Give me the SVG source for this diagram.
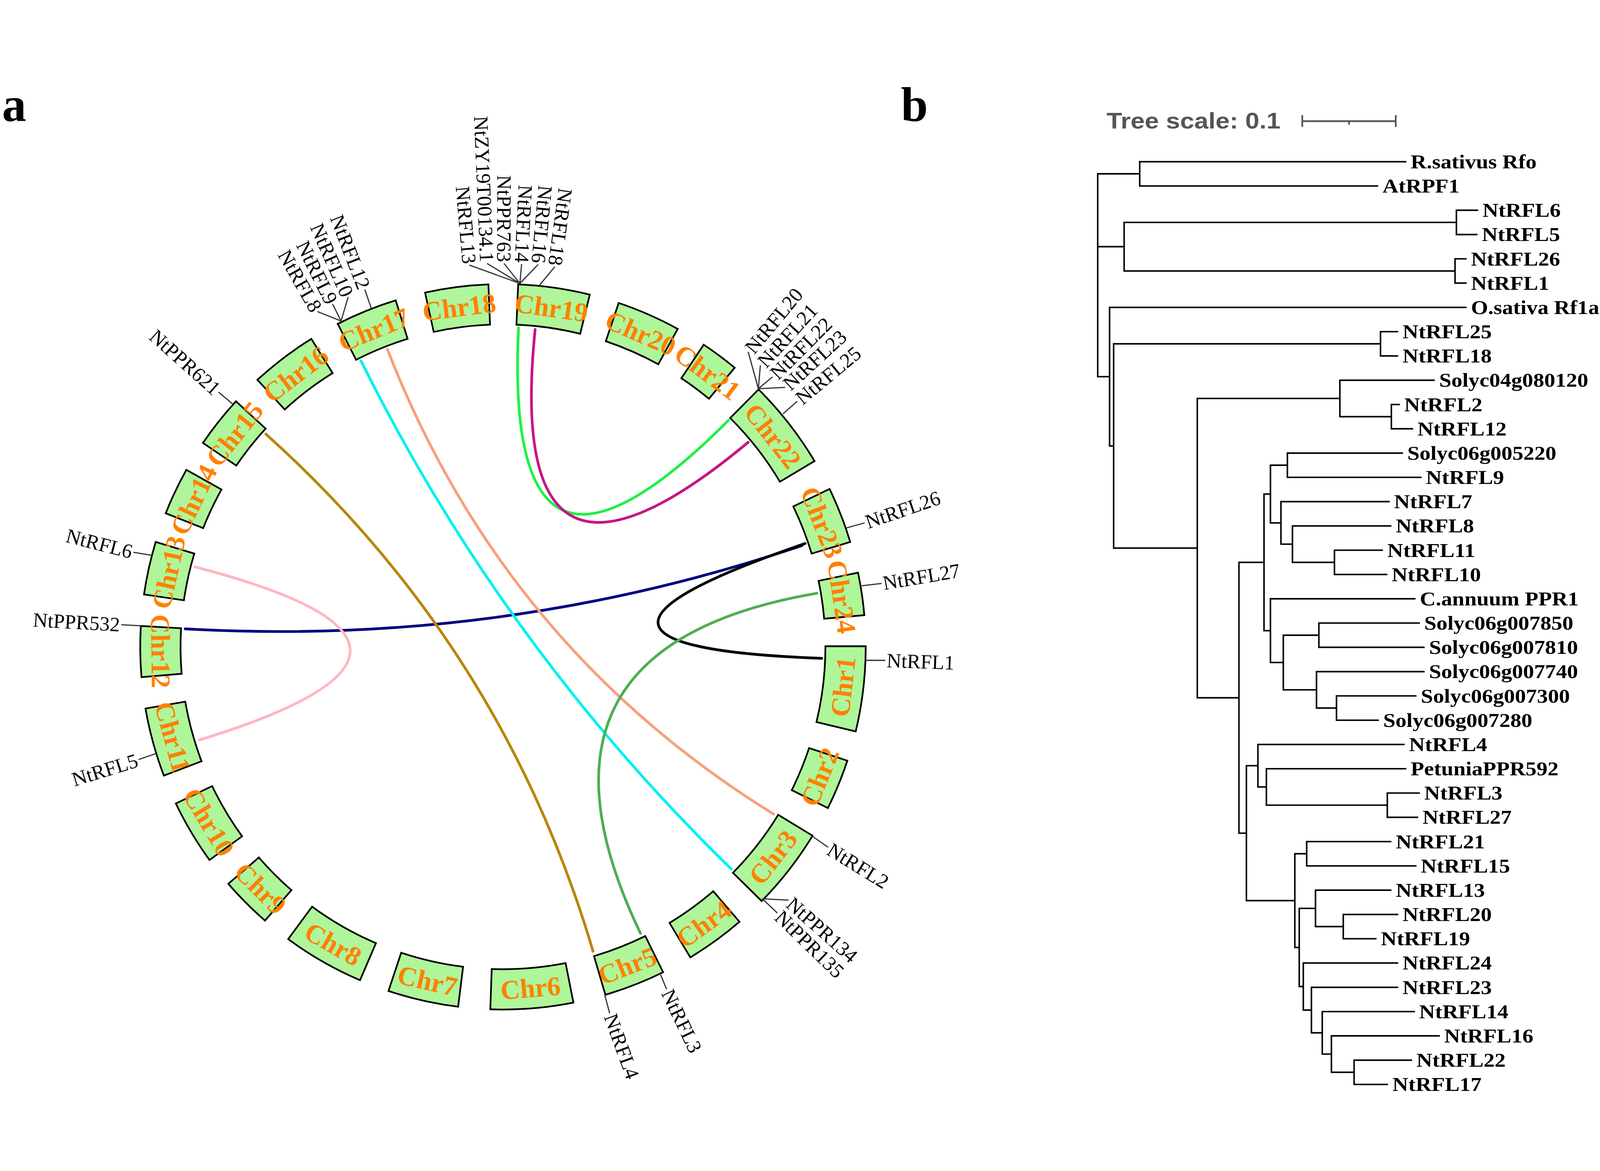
<svg xmlns="http://www.w3.org/2000/svg" width="4724" height="2998" viewBox="0 0 4724 2998">
<style>
svg{width:100vw;height:100vh}
.blk path{fill:#aff59a;stroke:#000;stroke-width:5;stroke-linejoin:miter}
.blk text{font-family:"Liberation Serif",serif;font-weight:bold;font-size:80px;fill:#ff8000;text-anchor:middle;dominant-baseline:central}
.lbl{font-family:"Liberation Serif",serif;font-size:60px;fill:#000;dominant-baseline:central}
.in{text-anchor:end}
.out{text-anchor:start}
.leaf{font-family:"Liberation Serif",serif;font-weight:bold;font-size:58px;fill:#000;dominant-baseline:central}
.panel{font-family:"Liberation Serif",serif;font-weight:bold;font-size:143px;fill:#000}
.link{fill:none;stroke-width:8;stroke-linecap:round}
</style>
<rect width="4724" height="2998" fill="#fff"/>
<text class="panel" x="6" y="128">a</text>
<text class="panel" x="2660" y="128">b</text>

<g id="chromosomes" class="blk">
<g id="chr1" transform="translate(1485,1680) rotate(96.7)"><path d="M-126.8,-1063.5 A1071,1071 0 0 1 126.8,-1063.5 L112.7,-945.3 A952,952 0 0 0 -112.7,-945.3 Z"/><text y="-1011" transform="rotate(180 0 -1011)">Chr1</text></g>
<g id="chr2" transform="translate(1485,1680) rotate(112.35)"><path d="M-75.6,-1068.3 A1071,1071 0 0 1 75.6,-1068.3 L67.2,-949.6 A952,952 0 0 0 -67.2,-949.6 Z"/><text y="-1011" transform="rotate(180 0 -1011)">Chr2</text></g>
<g id="chr3" transform="translate(1485,1680) rotate(127.95)"><path d="M-122.2,-1064 A1071,1071 0 0 1 122.2,-1064 L108.6,-945.8 A952,952 0 0 0 -108.6,-945.8 Z"/><text y="-1011" transform="rotate(180 0 -1011)">Chr3</text></g>
<g id="chr4" transform="translate(1485,1680) rotate(144.1)"><path d="M-89.6,-1067.2 A1071,1071 0 0 1 89.6,-1067.2 L79.7,-948.7 A952,952 0 0 0 -79.7,-948.7 Z"/><text y="-1011" transform="rotate(180 0 -1011)">Chr4</text></g>
<g id="chr5" transform="translate(1485,1680) rotate(158.7)"><path d="M-91.5,-1067.1 A1071,1071 0 0 1 91.5,-1067.1 L81.3,-948.5 A952,952 0 0 0 -81.3,-948.5 Z"/><text y="-1011" transform="rotate(180 0 -1011)">Chr5</text></g>
<g id="chr6" transform="translate(1485,1680) rotate(175.4)"><path d="M-123.1,-1063.9 A1071,1071 0 0 1 123.1,-1063.9 L109.4,-945.7 A952,952 0 0 0 -109.4,-945.7 Z"/><text y="-1011" transform="rotate(180 0 -1011)">Chr6</text></g>
<g id="chr7" transform="translate(1485,1680) rotate(192.75)"><path d="M-105.4,-1065.8 A1071,1071 0 0 1 105.4,-1065.8 L93.7,-947.4 A952,952 0 0 0 -93.7,-947.4 Z"/><text y="-1011" transform="rotate(180 0 -1011)">Chr7</text></g>
<g id="chr8" transform="translate(1485,1680) rotate(209.75)"><path d="M-122.2,-1064 A1071,1071 0 0 1 122.2,-1064 L108.6,-945.8 A952,952 0 0 0 -108.6,-945.8 Z"/><text y="-1011" transform="rotate(180 0 -1011)">Chr8</text></g>
<g id="chr9" transform="translate(1485,1680) rotate(225.1)"><path d="M-76.6,-1068.3 A1071,1071 0 0 1 76.6,-1068.3 L68.1,-949.6 A952,952 0 0 0 -68.1,-949.6 Z"/><text y="-1011" transform="rotate(180 0 -1011)">Chr9</text></g>
<g id="chr10" transform="translate(1485,1680) rotate(239.2)"><path d="M-97.1,-1066.6 A1071,1071 0 0 1 97.1,-1066.6 L86.3,-948.1 A952,952 0 0 0 -86.3,-948.1 Z"/><text y="-1011" transform="rotate(180 0 -1011)">Chr10</text></g>
<g id="chr11" transform="translate(1485,1680) rotate(254.7)"><path d="M-102.7,-1066.1 A1071,1071 0 0 1 102.7,-1066.1 L91.2,-947.6 A952,952 0 0 0 -91.2,-947.6 Z"/><text y="-1011" transform="rotate(180 0 -1011)">Chr11</text></g>
<g id="chr12" transform="translate(1485,1680) rotate(269.25)"><path d="M-75.6,-1068.3 A1071,1071 0 0 1 75.6,-1068.3 L67.2,-949.6 A952,952 0 0 0 -67.2,-949.6 Z"/><text y="-1011" transform="rotate(180 0 -1011)">Chr12</text></g>
<g id="chr13" transform="translate(1485,1680) rotate(282.55)"><path d="M-79.4,-1068.1 A1071,1071 0 0 1 79.4,-1068.1 L70.6,-949.4 A952,952 0 0 0 -70.6,-949.4 Z"/><text y="-1011">Chr13</text></g>
<g id="chr14" transform="translate(1485,1680) rotate(295.4)"><path d="M-71,-1068.6 A1071,1071 0 0 1 71,-1068.6 L63.1,-949.9 A952,952 0 0 0 -63.1,-949.9 Z"/><text y="-1011">Chr14</text></g>
<g id="chr15" transform="translate(1485,1680) rotate(308.4)"><path d="M-78.4,-1068.1 A1071,1071 0 0 1 78.4,-1068.1 L69.7,-949.4 A952,952 0 0 0 -69.7,-949.4 Z"/><text y="-1011">Chr15</text></g>
<g id="chr16" transform="translate(1485,1680) rotate(322.75)"><path d="M-99.9,-1066.3 A1071,1071 0 0 1 99.9,-1066.3 L88.8,-947.8 A952,952 0 0 0 -88.8,-947.8 Z"/><text y="-1011">Chr16</text></g>
<g id="chr17" transform="translate(1485,1680) rotate(337.85)"><path d="M-92.4,-1067 A1071,1071 0 0 1 92.4,-1067 L82.1,-948.4 A952,952 0 0 0 -82.1,-948.4 Z"/><text y="-1011">Chr17</text></g>
<g id="chr18" transform="translate(1485,1680) rotate(352.65)"><path d="M-94.3,-1066.8 A1071,1071 0 0 1 94.3,-1066.8 L83.8,-948.3 A952,952 0 0 0 -83.8,-948.3 Z"/><text y="-1011">Chr18</text></g>
<g id="chr19" transform="translate(1485,1680) rotate(8.125)"><path d="M-106.8,-1065.7 A1071,1071 0 0 1 106.8,-1065.7 L95,-947.2 A952,952 0 0 0 -95,-947.2 Z"/><text y="-1011">Chr19</text></g>
<g id="chr20" transform="translate(1485,1680) rotate(23.7)"><path d="M-95.2,-1066.8 A1071,1071 0 0 1 95.2,-1066.8 L84.6,-948.2 A952,952 0 0 0 -84.6,-948.2 Z"/><text y="-1011">Chr20</text></g>
<g id="chr21" transform="translate(1485,1680) rotate(36.65)"><path d="M-57,-1069.5 A1071,1071 0 0 1 57,-1069.5 L50.7,-950.6 A952,952 0 0 0 -50.7,-950.6 Z"/><text y="-1011">Chr21</text></g>
<g id="chr22" transform="translate(1485,1680) rotate(52)"><path d="M-134.2,-1062.5 A1071,1071 0 0 1 134.2,-1062.5 L119.3,-944.5 A952,952 0 0 0 -119.3,-944.5 Z"/><text y="-1011">Chr22</text></g>
<g id="chr23" transform="translate(1485,1680) rotate(68.7)"><path d="M-84,-1067.7 A1071,1071 0 0 1 84,-1067.7 L74.7,-949.1 A952,952 0 0 0 -74.7,-949.1 Z"/><text y="-1011">Chr23</text></g>
<g id="chr24" transform="translate(1485,1680) rotate(81.6)"><path d="M-63.5,-1069.1 A1071,1071 0 0 1 63.5,-1069.1 L56.5,-950.3 A952,952 0 0 0 -56.5,-950.3 Z"/><text y="-1011">Chr24</text></g>
</g>

<g id="connectors">
<path class="link" stroke="#000080" d="M547,1627 Q1485,1680 2368,1381"/>
<path class="link" stroke="#000000" d="M2377,1375 Q1485,1680 2426,1714"/>
<path class="link" stroke="#20f048" d="M1531,738 Q1485,1680 2151,1011"/>
<path class="link" stroke="#c71585" d="M1580,743 Q1485,1680 2209,1076"/>
<path class="link" stroke="#00f0f0" d="M1066,836 Q1485,1680 2159,2336"/>
<path class="link" stroke="#f7a07c" d="M1144,802 Q1485,1680 2284,2174"/>
<path class="link" stroke="#b8860b" d="M785,1052 Q1485,1680 1751,2579"/>
<path class="link" stroke="#ffb6c1" d="M576,1444 Q1485,1680 589,1955"/>
<path class="link" stroke="#4caf50" d="M2412,1522 Q1485,1680 1891,2526"/>
</g>

<g id="gene-labels">
<path fill="none" stroke="#333" stroke-width="3.5" d="M1096,680 L1077,625 M1007,718 L1028,647 M1007,718 L982,668 M1007,718 L937,690 M687,963 L645,928 M448,1410 L394,1401 M418,1618 L358,1615 M461,1995 L409,2013 M2499,1329 L2553,1314 M2544,1500 L2603,1493 M2555,1720 L2614,1720 M2239,918 L2209,809 M2239,918 L2245,849 M2239,918 L2281,883 M2239,918 L2318,914 M2312,992 L2354,955 M1535,607 L1386,553 M1535,607 L1438,548 M1535,607 L1488,548 M1535,607 L1540,550 M1535,607 L1589,551 M1593,612 L1638,558 M2398,2239 L2445,2272 M2251,2424 L2328,2428 M2251,2424 L2295,2466 M1785,2706 L1800,2762 M1949,2645 L1968,2691"/>
<g class="lbl in">
<text x="-4" transform="translate(1077,625) rotate(68.86)">NtRFL12</text>
<text x="-4" transform="translate(1028,647) rotate(66.1)">NtRFL10</text>
<text x="-4" transform="translate(982,668) rotate(63.6)">NtRFL9</text>
<text x="-4" transform="translate(937,690) rotate(60.5)">NtRFL8</text>
<text x="-4" transform="translate(645,928) rotate(41.8)">NtPPR621</text>
<text x="-4" transform="translate(394,1401) rotate(14.3)">NtRFL6</text>
<text x="-4" transform="translate(358,1615) rotate(3.3)">NtPPR532</text>
<text x="-4" transform="translate(409,2013) rotate(-17.2)">NtRFL5</text>
<text x="-4" transform="translate(1386,553) rotate(85)">NtRFL13</text>
<text x="-4" transform="translate(1438,548) rotate(87.6)">NtZY19T00134.1</text>
<text x="-4" transform="translate(1488,548) rotate(90.15)">NtPPR763</text>
<text x="-4" transform="translate(1540,550) rotate(92.8)">NtRFL14</text>
<text x="-4" transform="translate(1589,551) rotate(95.3)">NtRFL16</text>
<text x="-4" transform="translate(1638,558) rotate(97.8)">NtRFL18</text>
</g>
<g class="lbl out">
<text x="4" transform="translate(2553,1314) rotate(-18.9)">NtRFL26</text>
<text x="4" transform="translate(2603,1493) rotate(-9.5)">NtRFL27</text>
<text x="4" transform="translate(2614,1720) rotate(2)">NtRFL1</text>
<text x="4" transform="translate(2209,809) rotate(-50.3)">NtRFL20</text>
<text x="4" transform="translate(2245,849) rotate(-47.6)">NtRFL21</text>
<text x="4" transform="translate(2281,883) rotate(-45)">NtRFL22</text>
<text x="4" transform="translate(2318,914) rotate(-42.6)">NtRFL23</text>
<text x="4" transform="translate(2354,955) rotate(-39.8)">NtRFL25</text>
<text x="4" transform="translate(2445,2272) rotate(31.7)">NtRFL2</text>
<text x="4" transform="translate(2328,2428) rotate(41.6)">NtPPR134</text>
<text x="4" transform="translate(2295,2466) rotate(44.1)">NtPPR135</text>
<text x="4" transform="translate(1800,2762) rotate(70)">NtRFL4</text>
<text x="4" transform="translate(1968,2691) rotate(64.5)">NtRFL3</text>
</g>
</g>

<g id="tree">
<text x="3267" y="150" font-family="Liberation Sans, Arial, sans-serif" font-weight="bold" font-size="67" fill="#555" textLength="514" lengthAdjust="spacingAndGlyphs">Tree scale: 0.1</text>
<path fill="none" stroke="#555" stroke-width="5" d="M3845,128 H4121 M3845,110 V145 M4121,110 V145 M3983,128 V138"/>
<path fill="none" stroke="#000" stroke-width="4.5" stroke-linecap="square" d="M3241,283.45 V882.4 M3241,283.45 H3365 M3365,247.6 V319.3 M3365,247.6 H4150 M3365,319.3 H4067 M3241,498.55 H3319 M3319,426.85 V570.25 M3319,426.85 H4300 M4300,391 V462.7 M4300,391 H4362 M4300,462.7 H4360 M3319,570.25 H4296 M4296,534.4 V606.1 M4296,534.4 H4328 M4296,606.1 H4328 M3241,882.4 H3276 M3276,677.8 V1087 M3276,677.8 H4328 M3276,1087 H3288 M3288,785.35 V1388.6 M3288,785.35 H4076 M4076,749.5 V821.2 M4076,749.5 H4126 M4076,821.2 H4126 M3288,1388.6 H3535 M3535,946.7 V1830.5 M3535,946.7 H3956 M3956,892.9 V1000.45 M3956,892.9 H4234 M3956,1000.45 H4108 M4108,964.6 V1036.3 M4108,964.6 H4131 M4108,1036.3 H4170 M3535,1830.5 H3658 M3658,1430.65 V2230.3 M3658,1430.65 H3732 M3732,1229 V1632.3 M3732,1229 H3751 M3751,1143.85 V1314.15 M3751,1143.85 H3801 M3801,1108 V1179.7 M3801,1108 H4140 M3801,1179.7 H4195 M3751,1314.15 H3782 M3782,1251.4 V1376.9 M3782,1251.4 H4101 M3782,1376.9 H3816 M3816,1323.1 V1430.65 M3816,1323.1 H4106 M3816,1430.65 H3940 M3940,1394.8 V1466.5 M3940,1394.8 H4081 M3940,1466.5 H4094 M3732,1632.3 H3751 M3751,1538.2 V1726.4 M3751,1538.2 H4177 M3751,1726.4 H3789 M3789,1645.75 V1807.1 M3789,1645.75 H3894 M3894,1609.9 V1681.6 M3894,1609.9 H4190 M3894,1681.6 H4204 M3789,1807.1 H3887 M3887,1753.3 V1860.85 M3887,1753.3 H4204 M3887,1860.85 H3946 M3946,1825 V1896.7 M3946,1825 H4180 M3946,1896.7 H4069 M3658,2230.3 H3680 M3680,2031.15 V2429.4 M3680,2031.15 H3714 M3714,1968.4 V2093.9 M3714,1968.4 H4145 M3714,2093.9 H3739 M3739,2040.1 V2147.65 M3739,2040.1 H4150 M3739,2147.65 H4096 M4096,2111.8 V2183.5 M4096,2111.8 H4190 M4096,2183.5 H4185 M3680,2429.4 H3823 M3823,2291.05 V2567.8 M3823,2291.05 H3858 M3858,2255.2 V2326.9 M3858,2255.2 H4106 M3858,2326.9 H4180 M3823,2567.8 H3836 M3836,2452.4 V2683.15 M3836,2452.4 H3884 M3884,2398.6 V2506.15 M3884,2398.6 H4106 M3884,2506.15 H3966 M3966,2470.3 V2542 M3966,2470.3 H4126 M3966,2542 H4062 M3836,2683.15 H3848 M3848,2613.7 V2752.6 M3848,2613.7 H4126 M3848,2752.6 H3872 M3872,2685.4 V2819.85 M3872,2685.4 H4126 M3872,2819.85 H3904 M3904,2757.1 V2882.6 M3904,2757.1 H4175 M3904,2882.6 H3931 M3931,2828.8 V2936.35 M3931,2828.8 H4249 M3931,2936.35 H3998 M3998,2900.5 V2972.2 M3998,2900.5 H4167 M3998,2972.2 H4096"/>
<g class="leaf">
<text transform="translate(4165,247.6) scale(1.12,1)">R.sativus Rfo</text>
<text transform="translate(4082,319.3) scale(1.12,1)">AtRPF1</text>
<text transform="translate(4377,391) scale(1.12,1)">NtRFL6</text>
<text transform="translate(4375,462.7) scale(1.12,1)">NtRFL5</text>
<text transform="translate(4343,534.4) scale(1.12,1)">NtRFL26</text>
<text transform="translate(4343,606.1) scale(1.12,1)">NtRFL1</text>
<text transform="translate(4343,677.8) scale(1.12,1)">O.sativa Rf1a</text>
<text transform="translate(4141,749.5) scale(1.12,1)">NtRFL25</text>
<text transform="translate(4141,821.2) scale(1.12,1)">NtRFL18</text>
<text transform="translate(4249,892.9) scale(1.12,1)">Solyc04g080120</text>
<text transform="translate(4146,964.6) scale(1.12,1)">NtRFL2</text>
<text transform="translate(4185,1036.3) scale(1.12,1)">NtRFL12</text>
<text transform="translate(4155,1108) scale(1.12,1)">Solyc06g005220</text>
<text transform="translate(4210,1179.7) scale(1.12,1)">NtRFL9</text>
<text transform="translate(4116,1251.4) scale(1.12,1)">NtRFL7</text>
<text transform="translate(4121,1323.1) scale(1.12,1)">NtRFL8</text>
<text transform="translate(4096,1394.8) scale(1.12,1)">NtRFL11</text>
<text transform="translate(4109,1466.5) scale(1.12,1)">NtRFL10</text>
<text transform="translate(4192,1538.2) scale(1.12,1)">C.annuum PPR1</text>
<text transform="translate(4205,1609.9) scale(1.12,1)">Solyc06g007850</text>
<text transform="translate(4219,1681.6) scale(1.12,1)">Solyc06g007810</text>
<text transform="translate(4219,1753.3) scale(1.12,1)">Solyc06g007740</text>
<text transform="translate(4195,1825) scale(1.12,1)">Solyc06g007300</text>
<text transform="translate(4084,1896.7) scale(1.12,1)">Solyc06g007280</text>
<text transform="translate(4160,1968.4) scale(1.12,1)">NtRFL4</text>
<text transform="translate(4165,2040.1) scale(1.12,1)">PetuniaPPR592</text>
<text transform="translate(4205,2111.8) scale(1.12,1)">NtRFL3</text>
<text transform="translate(4200,2183.5) scale(1.12,1)">NtRFL27</text>
<text transform="translate(4121,2255.2) scale(1.12,1)">NtRFL21</text>
<text transform="translate(4195,2326.9) scale(1.12,1)">NtRFL15</text>
<text transform="translate(4121,2398.6) scale(1.12,1)">NtRFL13</text>
<text transform="translate(4141,2470.3) scale(1.12,1)">NtRFL20</text>
<text transform="translate(4077,2542) scale(1.12,1)">NtRFL19</text>
<text transform="translate(4141,2613.7) scale(1.12,1)">NtRFL24</text>
<text transform="translate(4141,2685.4) scale(1.12,1)">NtRFL23</text>
<text transform="translate(4190,2757.1) scale(1.12,1)">NtRFL14</text>
<text transform="translate(4264,2828.8) scale(1.12,1)">NtRFL16</text>
<text transform="translate(4182,2900.5) scale(1.12,1)">NtRFL22</text>
<text transform="translate(4111,2972.2) scale(1.12,1)">NtRFL17</text>
</g>
</g>
</svg>
